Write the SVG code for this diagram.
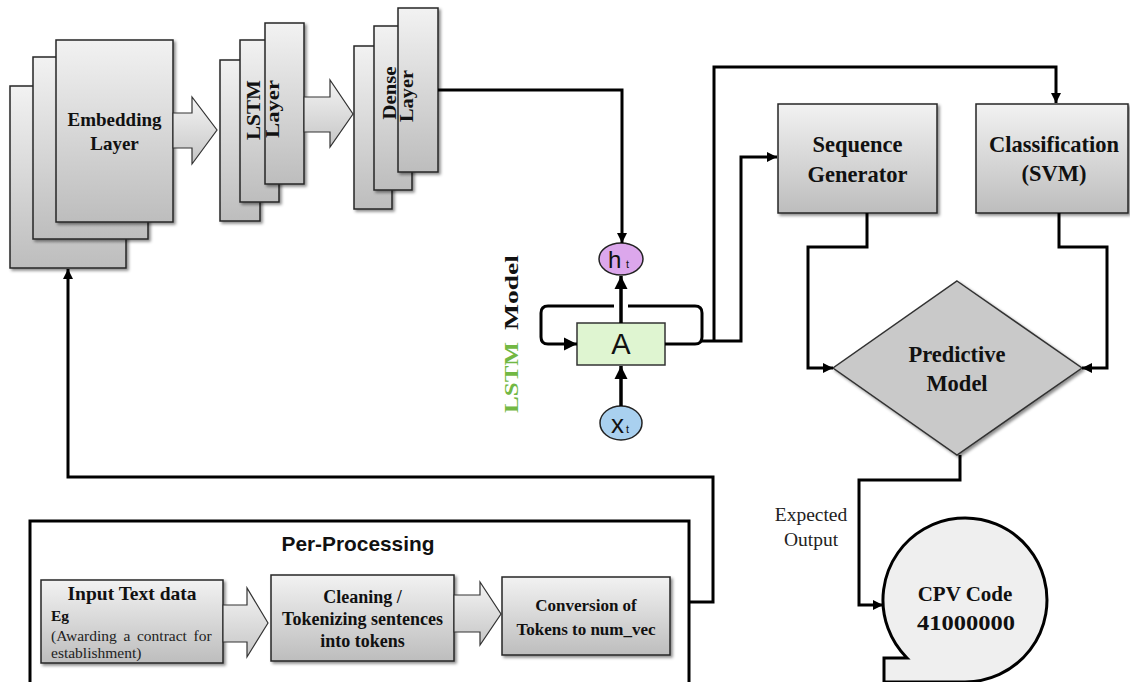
<svg xmlns="http://www.w3.org/2000/svg" width="1130" height="682" viewBox="0 0 1130 682">
<defs>
<linearGradient id="g" x1="0" y1="0" x2="0" y2="1">
<stop offset="0" stop-color="#f2f2f2"/>
<stop offset="1" stop-color="#bdbdbd"/>
</linearGradient>
<linearGradient id="ga" x1="0" y1="0" x2="0" y2="1">
<stop offset="0" stop-color="#f4f4f4"/>
<stop offset="1" stop-color="#c6c6c6"/>
</linearGradient>
<filter id="sh" x="-10%" y="-10%" width="130%" height="130%">
<feDropShadow dx="2" dy="2" stdDeviation="1.5" flood-color="#000" flood-opacity="0.45"/>
</filter>
<marker id="ah" viewBox="0 0 10 10" refX="10" refY="5" markerWidth="11" markerHeight="10" markerUnits="userSpaceOnUse" orient="auto">
<path d="M0,0 L10,5 L0,10 z" fill="#000"/>
</marker>
<marker id="ahL" viewBox="0 0 10 10" refX="10" refY="5" markerWidth="13" markerHeight="14" markerUnits="userSpaceOnUse" orient="auto">
<path d="M0,0 L10,5 L0,10 z" fill="#000"/>
</marker>
<style>
.box{fill:url(#g);stroke:#262626;stroke-width:1.5;filter:url(#sh);}
.barrow{fill:url(#ga);stroke:#333;stroke-width:1.2;}
.conn{fill:none;stroke:#000;stroke-width:3;}
.cell{fill:none;stroke:#000;stroke-width:3.5;}
.t{font-family:"Liberation Serif","Times New Roman",serif;font-weight:bold;fill:#111;text-anchor:middle;}
.r{font-family:"Liberation Serif","Times New Roman",serif;fill:#222;}
.s{font-family:"Liberation Sans",Arial,sans-serif;fill:#111;}
</style>
</defs>

<g id="embedding-layer">
<rect class="box" x="10" y="86" width="116" height="182"/>
<rect class="box" x="33" y="57" width="115" height="182"/>
<rect class="box" x="56" y="40" width="117" height="182"/>
<text class="t" x="114.5" y="126" font-size="19">Embedding</text>
<text class="t" x="114.5" y="150" font-size="19">Layer</text>
</g>

<g id="arrow-emb-lstm">
<polygon class="barrow" points="173,113 192,113 192,97 217,130 192,164 192,148 173,148"/>
</g>

<g id="lstm-layer">
<rect class="box" x="220" y="60" width="40" height="161"/>
<rect class="box" x="240" y="40" width="39" height="162"/>
<rect class="box" x="265" y="23" width="39" height="161"/>
<text class="t" transform="translate(260,110) rotate(-90)" font-size="18" textLength="60" lengthAdjust="spacingAndGlyphs">LSTM</text>
<text class="t" transform="translate(279,109) rotate(-90)" font-size="18" textLength="58" lengthAdjust="spacingAndGlyphs">Layer</text>
</g>

<g id="arrow-lstm-dense">
<polygon class="barrow" points="304,97 330,97 330,80 353,114 330,147 330,132 304,132"/>
</g>

<g id="dense-layer">
<rect class="box" x="354" y="46" width="38" height="163"/>
<rect class="box" x="374" y="26" width="38" height="164"/>
<rect class="box" x="398" y="8" width="40" height="164"/>
<text class="t" transform="translate(396,93) rotate(-90)" font-size="18" textLength="53" lengthAdjust="spacingAndGlyphs">Dense</text>
<text class="t" transform="translate(413,96) rotate(-90)" font-size="18" textLength="52" lengthAdjust="spacingAndGlyphs">Layer</text>
</g>

<g id="lstm-model-label">
<text class="t" transform="translate(518,413) rotate(-90)" font-size="19" style="text-anchor:start;fill:#72b843" textLength="71" lengthAdjust="spacingAndGlyphs">LSTM</text>
<text class="t" transform="translate(518,330) rotate(-90)" font-size="19" style="text-anchor:start" textLength="75" lengthAdjust="spacingAndGlyphs">Model</text>
</g>

<g id="ht">
<ellipse cx="621" cy="259" rx="22" ry="16" fill="#dca7ec" stroke="#222" stroke-width="1.5"/>
<text class="s" x="608" y="268" font-size="24">h</text>
<text class="s" x="626" y="268" font-size="11">t</text>
</g>

<g id="cell-a">
<rect x="577" y="323" width="88" height="42" fill="#dff5d1" stroke="#333" stroke-width="1.5"/>
<text class="s" x="621" y="354" font-size="29" text-anchor="middle">A</text>
</g>

<g id="xt">
<ellipse cx="621" cy="423" rx="21" ry="17" fill="#a9d0ef" stroke="#222" stroke-width="1.5"/>
<text class="s" x="611" y="433" font-size="26">x</text>
<text class="s" x="626" y="433" font-size="11">t</text>
</g>

<g id="sequence-generator">
<rect class="box" x="778" y="104" width="159" height="109"/>
<text class="t" x="857.5" y="152" font-size="22.5">Sequence</text>
<text class="t" x="857.5" y="182" font-size="22.5">Generator</text>
</g>

<g id="classification">
<rect class="box" x="976" y="104" width="152" height="109"/>
<text class="t" x="1054" y="152" font-size="22.5">Classification</text>
<text class="t" x="1054" y="181" font-size="22.5">(SVM)</text>
</g>

<g id="predictive-model">
<polygon points="957,281 1082,368 957,455 833,368" fill="#c9c9c9" stroke="#333" stroke-width="1.5" filter="url(#sh)"/>
<text class="t" x="957" y="362" font-size="22.5">Predictive</text>
<text class="t" x="957" y="391" font-size="22.5">Model</text>
</g>

<g id="cpv-code">
<path d="M907,658 A82,82 0 1 1 965,682 L884,682 L884,658 Z" fill="#efefef" stroke="#000" stroke-width="3"/>
<text class="t" x="965" y="601" font-size="21">CPV Code</text>
<text class="t" x="966" y="630" font-size="21" textLength="98" lengthAdjust="spacingAndGlyphs">41000000</text>
</g>

<g id="expected-output">
<text class="r" x="811" y="521" font-size="19.5" text-anchor="middle">Expected</text>
<text class="r" x="811" y="546" font-size="19.5" text-anchor="middle">Output</text>
</g>

<g id="pre-processing">
<rect x="30" y="521" width="659" height="175" fill="#fff" stroke="#000" stroke-width="3"/>
<text class="s" x="358" y="551" font-size="21" font-weight="bold" text-anchor="middle" textLength="153" lengthAdjust="spacingAndGlyphs">Per-Processing</text>
</g>

<g id="input-text">
<rect class="box" x="41" y="580" width="182" height="83"/>
<text class="t" x="132" y="600" font-size="19.5">Input Text data</text>
<text class="t" x="51" y="621" font-size="15.5" style="text-anchor:start">Eg</text>
<text class="r" x="51" y="641" font-size="15.5" word-spacing="2.8">(Awarding a contract for</text>
<text class="r" x="51" y="658" font-size="15.5">establishment)</text>
</g>

<g id="arrow-input-cleaning">
<polygon class="barrow" points="223,605 247,605 247,588 268,623 247,657 247,642 223,642"/>
</g>

<g id="cleaning">
<rect class="box" x="271" y="575" width="183" height="86"/>
<text class="t" x="362.5" y="603" font-size="18">Cleaning /</text>
<text class="t" x="362.5" y="625" font-size="18">Tokenizing sentences</text>
<text class="t" x="362.5" y="647" font-size="18">into tokens</text>
</g>

<g id="arrow-cleaning-conversion">
<polygon class="barrow" points="454,595 480,595 480,582 501,614 480,645 480,632 454,632"/>
</g>

<g id="conversion">
<rect class="box" x="502" y="577" width="168" height="78"/>
<text class="t" x="586" y="611" font-size="17">Conversion of</text>
<text class="t" x="586" y="635" font-size="17">Tokens to num_vec</text>
</g>

<g id="connectors">
<path class="conn" d="M438,90 H622 V243" marker-end="url(#ah)"/>
<path class="cell" d="M621,323 V276" marker-end="url(#ahL)"/>
<path class="cell" d="M621,406 V366" marker-end="url(#ahL)"/>
<path class="conn" d="M665,344 H695 Q702,344 702,337 V313 Q702,306 695,306 H628"/>
<path class="conn" d="M614,306 H548 Q541,306 541,313 V337 Q541,344 548,344 H577" marker-end="url(#ahL)"/>
<path class="conn" d="M702,341 H741 V157 H777" marker-end="url(#ah)"/>
<path class="conn" d="M714,341 V67 H1056 V103" marker-end="url(#ah)"/>
<path class="conn" d="M867,213 V247 H808 V368 H833" marker-end="url(#ah)"/>
<path class="conn" d="M1059,213 V247 H1107 V368 H1082" marker-end="url(#ah)"/>
<path class="conn" d="M960,455 V480 H859 V605 H883" marker-end="url(#ah)"/>
<path class="conn" d="M689,602 H713 V477 H68 V269" marker-end="url(#ah)"/>
</g>
</svg>
